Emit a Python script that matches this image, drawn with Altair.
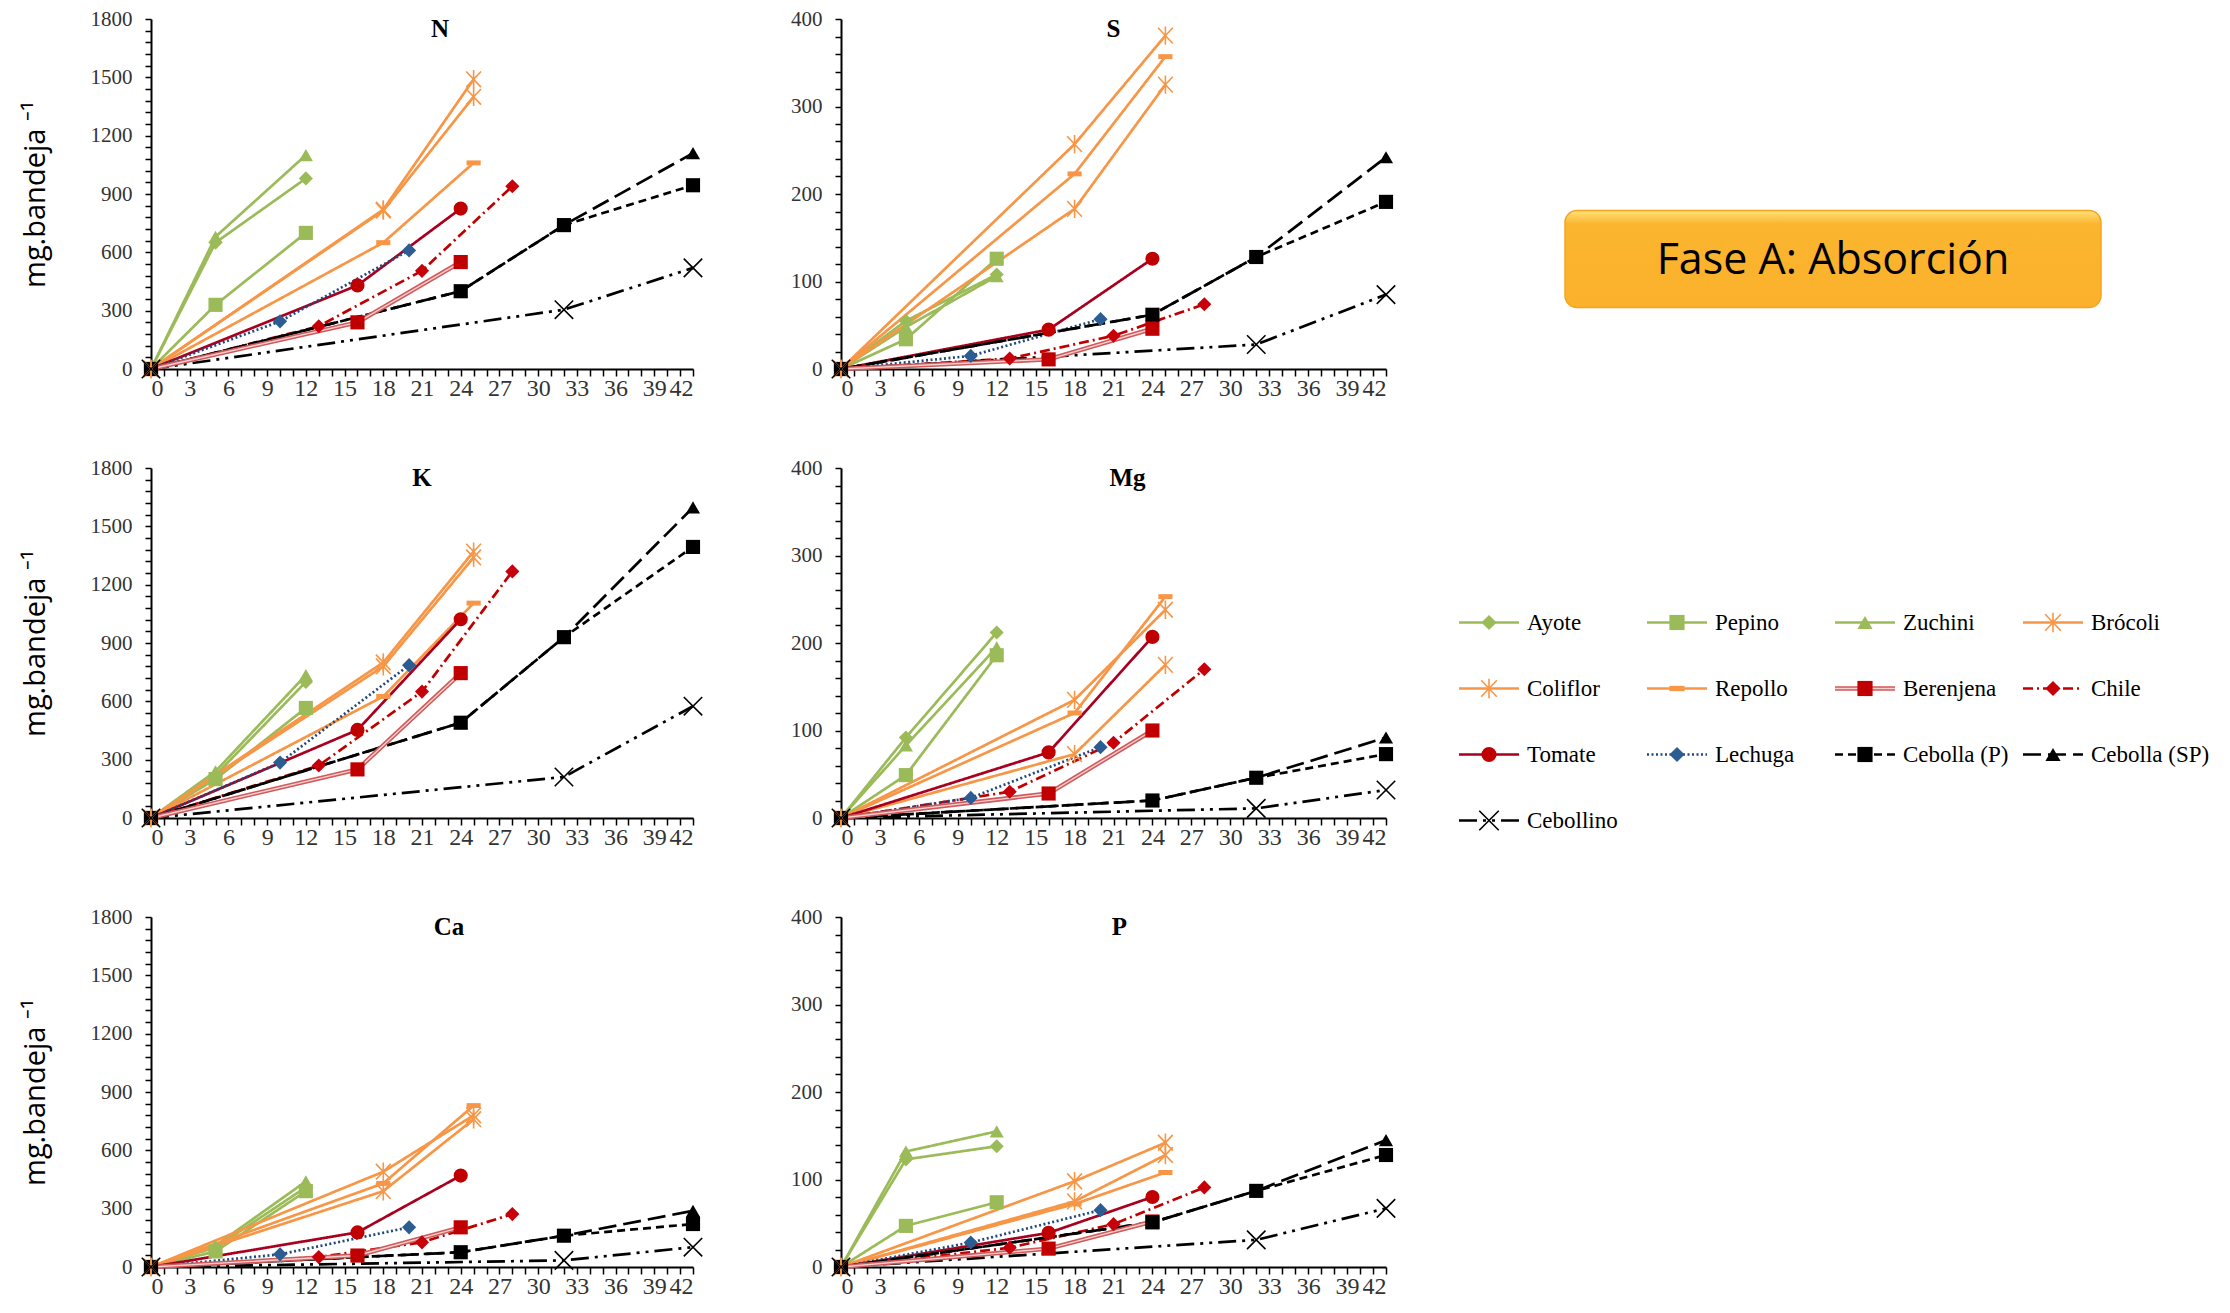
import altair as alt
import pandas as pd

# ---------------- data ----------------
SERIES = ["Ayote", "Pepino", "Zuchini", "Brócoli", "Coliflor", "Repollo",
          "Berenjena", "Chile", "Tomate", "Lechuga",
          "Cebolla (P)", "Cebolla (SP)", "Cebollino"]

DAYS = {
    "Ayote": [0, 5, 12], "Pepino": [0, 5, 12], "Zuchini": [0, 5, 12],
    "Brócoli": [0, 18, 25], "Coliflor": [0, 18, 25], "Repollo": [0, 18, 25],
    "Berenjena": [0, 16, 24], "Chile": [0, 13, 21, 28], "Tomate": [0, 16, 24],
    "Lechuga": [0, 10, 20], "Cebolla (P)": [0, 24, 32, 42],
    "Cebolla (SP)": [0, 24, 32, 42], "Cebollino": [0, 32, 42],
}

N_VALUES = {
    "Ayote": [0, 650, 980], "Pepino": [0, 330, 700], "Zuchini": [0, 680, 1100],
    "Brócoli": [0, 820, 1490], "Coliflor": [0, 815, 1400], "Repollo": [0, 650, 1060],
    "Berenjena": [0, 240, 550], "Chile": [0, 220, 505, 940], "Tomate": [0, 430, 825],
    "Lechuga": [0, 245, 610], "Cebolla (P)": [0, 400, 740, 945],
    "Cebolla (SP)": [0, 400, 740, 1110], "Cebollino": [0, 305, 520],
}
S_VALUES = {
    "Ayote": [0, 55, 108], "Pepino": [0, 34, 126], "Zuchini": [0, 48, 106],
    "Brócoli": [0, 257, 381], "Coliflor": [0, 183, 325], "Repollo": [0, 223, 357],
    "Berenjena": [0, 11, 46], "Chile": [0, 12, 38, 74], "Tomate": [0, 45, 126],
    "Lechuga": [0, 15, 57], "Cebolla (P)": [0, 62, 128, 191],
    "Cebolla (SP)": [0, 62, 128, 242], "Cebollino": [0, 28, 85],
}
K_VALUES = {
    "Ayote": [0, 220, 700], "Pepino": [0, 200, 566], "Zuchini": [0, 240, 735],
    "Brócoli": [0, 800, 1370], "Coliflor": [0, 780, 1340], "Repollo": [0, 625, 1105],
    "Berenjena": [0, 250, 745], "Chile": [0, 270, 650, 1268], "Tomate": [0, 453, 1022],
    "Lechuga": [0, 285, 786], "Cebolla (P)": [0, 490, 930, 1394],
    "Cebolla (SP)": [0, 490, 930, 1597], "Cebollino": [0, 211, 575],
}
MG_VALUES = {
    "Ayote": [0, 92, 212], "Pepino": [0, 49, 186], "Zuchini": [0, 83, 195],
    "Brócoli": [0, 135, 238], "Coliflor": [0, 73, 175], "Repollo": [0, 120, 253],
    "Berenjena": [0, 28, 100], "Chile": [0, 30, 86, 170], "Tomate": [0, 75, 207],
    "Lechuga": [0, 23, 81], "Cebolla (P)": [0, 20, 46, 73],
    "Cebolla (SP)": [0, 20, 46, 92], "Cebollino": [0, 11, 32],
}
CA_VALUES = {
    "Ayote": [0, 100, 410], "Pepino": [0, 80, 390], "Zuchini": [0, 110, 440],
    "Brócoli": [0, 490, 780], "Coliflor": [0, 390, 760], "Repollo": [0, 430, 830],
    "Berenjena": [0, 59, 204], "Chile": [0, 51, 127, 272], "Tomate": [0, 178, 470],
    "Lechuga": [0, 65, 204], "Cebolla (P)": [0, 76, 161, 221],
    "Cebolla (SP)": [0, 76, 161, 289], "Cebollino": [0, 34, 102],
}
P_VALUES = {
    "Ayote": [0, 123, 138], "Pepino": [0, 47, 74], "Zuchini": [0, 132, 155],
    "Brócoli": [0, 98, 142], "Coliflor": [0, 75, 128], "Repollo": [0, 72, 108],
    "Berenjena": [0, 21, 52], "Chile": [0, 22, 49, 91], "Tomate": [0, 39, 80],
    "Lechuga": [0, 28, 65], "Cebolla (P)": [0, 51, 87, 128],
    "Cebolla (SP)": [0, 51, 87, 145], "Cebollino": [0, 31, 67],
}

PANEL_NAMES = ["N", "S", "K", "Mg", "Ca", "P"]
PANEL_VALUES = [N_VALUES, S_VALUES, K_VALUES, MG_VALUES, CA_VALUES, P_VALUES]
PANEL_YMAX = [1800, 400, 1800, 400, 1800, 400]
PANEL_MAJOR = [300, 100, 300, 100, 300, 100]
PANEL_MINOR = [60, 20, 60, 20, 60, 20]

# ---------------- styles ----------------
GREEN, ORANGE = "#9BBB59", "#F79646"
LINE_COLORS = [GREEN, GREEN, GREEN, ORANGE, ORANGE, ORANGE,
               "#C0504D", "#C00000", "#A8001E", "#1F497D", "#000000", "#000000", "#000000"]
MARKER_COLORS = [GREEN, GREEN, GREEN, "#F9A55E", "#F9A55E", ORANGE,
                 "#C00000", "#C8000A", "#C00000", "#2B5C92", "#000000", "#000000", "#000000"]
DASHES = [[1, 0]] * 7 + [[10, 4, 2, 4], [1, 0], [2, 2.5], [8, 5], [18, 7], [18, 6, 3, 6, 3, 6]]
ASTER = "M0,-1L0,1M-0.8,-0.85L0.8,0.85M-0.8,0.85L0.8,-0.85"
DASHMARK = "M-1,-0.35L1,-0.35L1,0.35L-1,0.35Z"
XMARK = "M-1,-1L1,1M-1,1L1,-1"
SHAPES = ["diamond", "square", "triangle-up", ASTER, ASTER, DASHMARK,
          "square", "diamond", "circle", "diamond", "square", "triangle-up", XMARK]
OPEN_MARKERS = ["Brócoli", "Coliflor", "Cebollino"]

stroke_scale = alt.Scale(domain=SERIES, range=LINE_COLORS)
fill_scale = alt.Scale(domain=SERIES, range=MARKER_COLORS)
dash_scale = alt.Scale(domain=SERIES, range=DASHES)
shape_scale = alt.Scale(domain=SERIES, range=SHAPES)

SERIF = "Liberation Serif"
SANS = "Open Sans"
PLOT_H = 350
ROW_GAP = 99
LEFT_W = 542
RIGHT_W = 545
TITLE_DX = [18, 0, 0, 14, 27, 6]
Y_TITLE = "mg.bandeja ⁻¹"


def long_df(values):
    rows = []
    for s in SERIES:
        for d, v in zip(DAYS[s], values[s]):
            rows.append({"series": s, "day": d, "value": v})
    return pd.DataFrame(rows)


def panel(i):
    name = PANEL_NAMES[i]
    ymax, major, minor = PANEL_YMAX[i], PANEL_MAJOR[i], PANEL_MINOR[i]
    left = i % 2 == 0
    width = LEFT_W if left else RIGHT_W
    df = long_df(PANEL_VALUES[i])

    x = alt.X("day:Q", title=None,
              scale=alt.Scale(domain=[0, 42], nice=False),
              axis=alt.Axis(values=list(range(0, 43)),
                            labelExpr="datum.value % 3 === 0 ? datum.label : ''"))
    yaxis_kw = dict(values=list(range(0, ymax + 1, minor)), format="d",
                    labelExpr=f"datum.value % {major} === 0 ? datum.label : ''")
    if left:
        y = alt.Y("value:Q", title=Y_TITLE, scale=alt.Scale(domain=[0, ymax], nice=False),
                  axis=alt.Axis(**yaxis_kw))
    else:
        y = alt.Y("value:Q", title=None, scale=alt.Scale(domain=[0, ymax], nice=False),
                  axis=alt.Axis(**yaxis_kw))

    base = alt.Chart(df)
    lines = base.transform_filter(alt.datum.series != "Berenjena").mark_line(
        strokeWidth=2.7).encode(
        x=x, y=y,
        stroke=alt.Stroke("series:N", scale=stroke_scale, legend=None),
        strokeDash=alt.StrokeDash("series:N", scale=dash_scale, legend=None),
        order="day:Q")
    ber_outer = base.transform_filter(alt.datum.series == "Berenjena").mark_line(
        strokeWidth=4.5, color="#D0595A").encode(x=x, y=y)
    ber_inner = base.transform_filter(alt.datum.series == "Berenjena").mark_line(
        strokeWidth=1.4, color="#F6CFCF").encode(x=x, y=y)
    pts_filled = base.transform_filter(
        ~alt.FieldOneOfPredicate(field="series", oneOf=OPEN_MARKERS)).mark_point(
        filled=True, opacity=1, size=200).encode(
        x=x, y=y,
        fill=alt.Fill("series:N", scale=fill_scale, legend=None),
        shape=alt.Shape("series:N", scale=shape_scale, legend=None))
    pts_open = base.transform_filter(
        alt.FieldOneOfPredicate(field="series", oneOf=OPEN_MARKERS)).mark_point(
        filled=False, opacity=1, size=340, strokeWidth=1.6).encode(
        x=x, y=y,
        stroke=alt.Stroke("series:N", scale=stroke_scale, legend=None),
        shape=alt.Shape("series:N", scale=shape_scale, legend=None))
    title = alt.Chart(pd.DataFrame({"t": [name]})).mark_text(
        font=SERIF, fontSize=25, fontWeight="bold", color="#000000", baseline="middle").encode(
        text="t:N", x=alt.value(width / 2 + TITLE_DX[i]), y=alt.value(10))
    return alt.layer(lines, ber_outer, ber_inner, pts_filled, pts_open, title).properties(
        width=width, height=PLOT_H)


# ---------------- legend cell ----------------
LEG_PITCH_X = 188.0
LEG_X0 = -75.0
LEG_LINE = 60.0
LEG_TEXT = 68.0
LEG_PITCH_Y = 66.0
LEG_Y0 = 154.5
LEG_W = 600

leg_rows = []
leg_pts = []
for k, s in enumerate(SERIES):
    c, r = k % 4, k // 4
    leg_rows.append({"series": s, "lx": c, "ly": r})
    leg_rows.append({"series": s, "lx": c + LEG_LINE / LEG_PITCH_X, "ly": r})
    leg_pts.append({"series": s, "mx": c + LEG_LINE / 2 / LEG_PITCH_X,
                    "tx": c + LEG_TEXT / LEG_PITCH_X, "ly": r})
leg_lines_df = pd.DataFrame(leg_rows)
leg_pts_df = pd.DataFrame(leg_pts)

lx_dom = [-LEG_X0 / LEG_PITCH_X, -LEG_X0 / LEG_PITCH_X + LEG_W / LEG_PITCH_X]
ly_dom = [-LEG_Y0 / LEG_PITCH_Y, -LEG_Y0 / LEG_PITCH_Y + PLOT_H / LEG_PITCH_Y]
lxs = alt.Scale(domain=lx_dom, nice=False, zero=False)
lys = alt.Scale(domain=ly_dom, nice=False, zero=False, reverse=True)

lb = alt.Chart(leg_lines_df)
leg_line = lb.transform_filter(alt.datum.series != "Berenjena").mark_line(strokeWidth=2.7).encode(
    x=alt.X("lx:Q", scale=lxs, axis=None),
    y=alt.Y("ly:Q", scale=lys, axis=None),
    detail="series:N",
    stroke=alt.Stroke("series:N", scale=stroke_scale, legend=None),
    strokeDash=alt.StrokeDash("series:N", scale=dash_scale, legend=None))
leg_ber_o = lb.transform_filter(alt.datum.series == "Berenjena").mark_line(
    strokeWidth=4.5, color="#D0595A").encode(
    x=alt.X("lx:Q", scale=lxs, axis=None), y=alt.Y("ly:Q", scale=lys, axis=None))
leg_ber_i = lb.transform_filter(alt.datum.series == "Berenjena").mark_line(
    strokeWidth=1.4, color="#F6CFCF").encode(
    x=alt.X("lx:Q", scale=lxs, axis=None), y=alt.Y("ly:Q", scale=lys, axis=None))
pb = alt.Chart(leg_pts_df)
leg_pf = pb.transform_filter(
    ~alt.FieldOneOfPredicate(field="series", oneOf=OPEN_MARKERS)).mark_point(
    filled=True, opacity=1, size=230).encode(
    x=alt.X("mx:Q", scale=lxs, axis=None), y=alt.Y("ly:Q", scale=lys, axis=None),
    fill=alt.Fill("series:N", scale=fill_scale, legend=None),
    shape=alt.Shape("series:N", scale=shape_scale, legend=None))
leg_po = pb.transform_filter(
    alt.FieldOneOfPredicate(field="series", oneOf=OPEN_MARKERS)).mark_point(
    filled=False, opacity=1, size=380, strokeWidth=1.6).encode(
    x=alt.X("mx:Q", scale=lxs, axis=None), y=alt.Y("ly:Q", scale=lys, axis=None),
    stroke=alt.Stroke("series:N", scale=stroke_scale, legend=None),
    shape=alt.Shape("series:N", scale=shape_scale, legend=None))
leg_txt = pb.mark_text(font=SERIF, fontSize=23, align="left", baseline="middle",
                       color="#000000").encode(
    x=alt.X("tx:Q", scale=lxs, axis=None), y=alt.Y("ly:Q", scale=lys, axis=None),
    text="series:N")
legend = alt.layer(leg_line, leg_ber_o, leg_ber_i, leg_pf, leg_po, leg_txt).properties(
    width=LEG_W, height=PLOT_H)

# ---------------- "Fase A" box cell ----------------
BOX_TEXT = "Fase A: Absorción"
box_df = pd.DataFrame({"label": [BOX_TEXT]})
box_fill = alt.LinearGradient(
    gradient="linear",
    stops=[alt.GradientStop(color="#FFE27A", offset=0),
           alt.GradientStop(color="#FBB52F", offset=0.14),
           alt.GradientStop(color="#FBB12C", offset=1)],
    x1=0, x2=0, y1=0, y2=1)
box_rect = alt.Chart(box_df).mark_rect(
    cornerRadius=12, fill=box_fill, stroke="#F4A51C", strokeWidth=1.5).encode(
    x=alt.value(31), x2=alt.value(567), y=alt.value(191.5), y2=alt.value(288.5))
box_text = alt.Chart(box_df).mark_text(
    font=SANS, fontSize=43, color="#000000", align="center", baseline="alphabetic").encode(
    x=alt.value(299), y=alt.value(254.5), text="label:N")
box = alt.layer(box_rect, box_text).properties(width=LEG_W, height=PLOT_H)

cells = [panel(0), panel(1), box, panel(2), panel(3), legend, panel(4), panel(5)]

chart = alt.concat(
    *cells, columns=3, spacing={"row": ROW_GAP, "column": 148}, bounds="flush", align="each"
).properties(
    padding={"left": 13, "top": 0, "right": 0, "bottom": 0},
    background="#FFFFFF",
).configure_view(
    stroke=None
).configure_axis(
    grid=False, domainColor="#000000", domainWidth=2, tickColor="#000000", tickWidth=1.5,
    labelFont=SERIF, labelFontSize=21, labelColor="#333333",
    titleFont=SANS, titleFontSize=29, titleFontWeight="normal", titleColor="#000000",
).configure_axisX(
    tickSize=7, labelPadding=0, labelFontSize=24
).configure_axisY(
    tickSize=6, labelPadding=13, titlePadding=40
)

chart.save("out.html", embed_options={"renderer": "svg", "actions": False})
